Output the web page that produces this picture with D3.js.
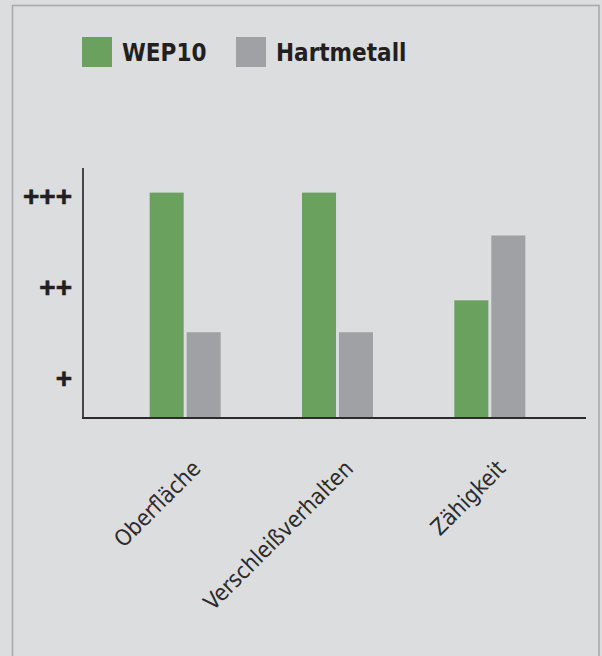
<!DOCTYPE html>
<html>
<head>
<meta charset="utf-8">
<script src="https://cdn.jsdelivr.net/npm/d3@7"></script>
<style>
  html, body { margin: 0; padding: 0; background: #dcdddf; }
  svg { display: block; }
</style>
</head>
<body>
<script>
const categories = ["Oberfläche", "Verschleißverhalten", "Zähigkeit"];
const seriesNames = ["WEP10", "Hartmetall"];
const wep10Values = [3.03, 3.03, 1.85];
const hartmetallValues = [1.50, 1.50, 2.56];
const tickValues = [1, 2, 3];
const tickLabels = ["+", "++", "+++"];

const colors = { "WEP10": "#6aa15e", "Hartmetall": "#a0a1a4" };
const W = 602, H = 656;

const svg = d3.select("body").append("svg").attr("width", W).attr("height", H);

svg.append("rect").attr("x", 0).attr("y", 0).attr("width", W).attr("height", H).attr("fill", "#dcdddf");
svg.append("rect").attr("x", 12.5).attr("y", 5.5).attr("width", 586.5).attr("height", 700)
  .attr("fill", "#dcdddf").attr("stroke", "#a9aaac").attr("stroke-width", 1.6);

const data = categories.map((c, i) => ({ cat: c, values: [
  { key: "WEP10", v: wep10Values[i] },
  { key: "Hartmetall", v: hartmetallValues[i] }
]}));

const x0 = d3.scaleBand().domain(categories).range([109, 566]).paddingInner(0.534).paddingOuter(0.267);
const x1 = d3.scaleBand().domain(seriesNames).range([0, x0.bandwidth()]).paddingInner(0.08);
const y = d3.scaleLinear().domain([0.56, 3.3]).range([418, 168]);

// bars
const g = svg.append("g");
g.selectAll("g.grp").data(data).join("g").attr("class", "grp")
  .attr("transform", d => `translate(${x0(d.cat)},0)`)
  .selectAll("rect").data(d => d.values).join("rect")
  .attr("x", d => x1(d.key))
  .attr("width", x1.bandwidth())
  .attr("y", d => y(d.v))
  .attr("height", d => y(0.56) - y(d.v))
  .attr("fill", d => colors[d.key]);

// y axis
const yAxis = d3.axisLeft(y).tickValues(tickValues).tickFormat((d, i) => tickLabels[i]).tickSize(0).tickPadding(11);
const ya = svg.append("g").attr("transform", "translate(83,0)").call(yAxis);
ya.select(".domain").remove();
ya.selectAll("text").attr("font-family", "'Liberation Sans', Arial, sans-serif")
  .attr("font-weight", "bold").attr("font-size", 28).attr("fill", "#231f20").attr("dy", "0.36em")
  .attr("stroke", "#231f20").attr("stroke-width", 0.6);
svg.append("line").attr("x1", 83).attr("x2", 83).attr("y1", 168).attr("y2", 418.5)
  .attr("stroke", "#3a3637").attr("stroke-width", 1.8);

// x axis
const xAxis = d3.axisBottom(x0).tickSize(0).tickFormat(d => d);
const xa = svg.append("g").attr("transform", "translate(0,418)").call(xAxis);
xa.select(".domain").remove();
svg.append("line").attr("x1", 82).attr("x2", 586).attr("y1", 418).attr("y2", 418)
  .attr("stroke", "#2d2a2b").attr("stroke-width", 2);
xa.selectAll(".tick text")
  .attr("font-family", "'DejaVu Sans Condensed', 'DejaVu Sans', sans-serif")
  .attr("font-size", 22.5).attr("fill", "#2d2a2b")
  .attr("text-anchor", "end").attr("y", 0).attr("dy", 0)
  .attr("transform", "translate(17,52) rotate(-45)");

// legend
const legend = svg.append("g");
const legendX = [82, 236];
seriesNames.forEach((s, i) => {
  legend.append("rect").attr("x", legendX[i]).attr("y", 37).attr("width", 30).attr("height", 30).attr("fill", colors[s]);
  legend.append("text").attr("x", legendX[i] + 40).attr("y", 52).attr("dy", "0.36em")
    .attr("font-family", "'DejaVu Sans Condensed', 'DejaVu Sans', sans-serif")
    .attr("font-weight", "bold").attr("font-size", 24).attr("fill", "#231f20").text(s);
});
</script>
</body>
</html>
